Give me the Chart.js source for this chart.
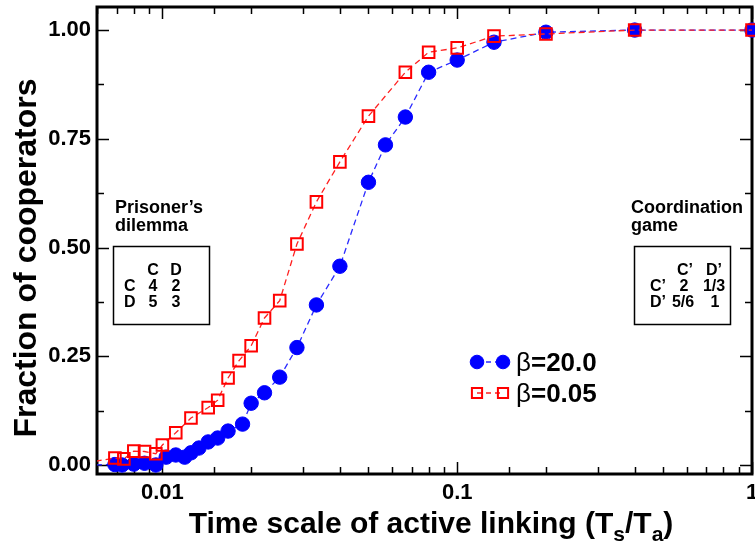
<!DOCTYPE html>
<html>
<head>
<meta charset="utf-8">
<script src="https://cdn.jsdelivr.net/npm/chart.js@4.4.1/dist/chart.umd.min.js"></script>
<style>
  html, body { margin: 0; padding: 0; background: #fff; }
  #wrap { width: 755px; height: 543px; position: relative; }
</style>
</head>
<body>
<div id="wrap"><canvas id="myChart"></canvas></div>
<script>
// beta = 20.0 (blue circles)
const strongX = [0.0055, 0.0069, 0.0073, 0.0080, 0.0087, 0.0095, 0.0103, 0.0111, 0.0119, 0.0125, 0.0133,
  0.0143, 0.0154, 0.0167, 0.0187, 0.0200, 0.0222, 0.0250, 0.0286, 0.0333, 0.0400,
  0.0500, 0.0571, 0.0667, 0.0800, 0.1000, 0.1333, 0.2000, 0.4000, 1.0000];
const strongY = [0.000, 0.001, 0.000, 0.002, 0.004, 0.000, 0.018, 0.023, 0.018, 0.028, 0.039,
  0.053, 0.062, 0.078, 0.094, 0.142, 0.166, 0.202, 0.270, 0.368, 0.457,
  0.650, 0.736, 0.800, 0.903, 0.931, 0.972, 0.995, 1.000, 1.000];

// beta = 0.05 (red open squares)
const weakX = [0.0055, 0.0069, 0.0074, 0.0080, 0.0087, 0.0095, 0.0100, 0.0111, 0.0125, 0.0143, 0.0154,
  0.0167, 0.0182, 0.0200, 0.0222, 0.0250, 0.0286, 0.0333, 0.0400, 0.0500,
  0.0667, 0.0800, 0.1000, 0.1333, 0.2000, 0.4000, 1.0000];
const weakY = [0.005, 0.016, 0.014, 0.032, 0.031, 0.026, 0.046, 0.074, 0.108, 0.132, 0.149,
  0.200, 0.240, 0.274, 0.338, 0.378, 0.508, 0.605, 0.697, 0.802,
  0.903, 0.949, 0.959, 0.986, 0.991, 1.000, 1.000];

const seriesNames = ["20.0", "0.05"];

const xTickValues = [0.01, 0.1, 1];
const xTickLabels = ["0.01", "0.1", "1"];
const yTickValues = [0, 0.25, 0.5, 0.75, 1];
const yTickLabels = ["0.00", "0.25", "0.50", "0.75", "1.00"];

const FONT = "'Liberation Sans', Arial, Helvetica, sans-serif";

function toPoints(xs, ys) {
  return xs.map((x, i) => ({ x: x, y: ys[i] }));
}

function pickLabel(values, labels, v, useLog) {
  const i = values.findIndex(t => useLog ? Math.abs(Math.log10(v / t)) < 1e-6 : Math.abs(v - t) < 1e-6);
  return i >= 0 ? labels[i] : "";
}

// frame with inward ticks on all four sides
const frameTicks = {
  id: "frameTicks",
  beforeDatasetsDraw(chart) {
    const { ctx, chartArea: a, scales: { x, y } } = chart;
    ctx.save();
    ctx.strokeStyle = "#000";
    ctx.lineWidth = 1.5;
    ctx.beginPath();
    x.ticks.forEach(t => {
      const px = Math.round(x.getPixelForValue(t.value)) + 0.5;
      const len = t.label !== "" ? 12 : 7;
      ctx.moveTo(px, a.bottom); ctx.lineTo(px, a.bottom - len);
      ctx.moveTo(px, a.top); ctx.lineTo(px, a.top + len);
    });
    y.ticks.forEach(t => {
      const py = Math.round(y.getPixelForValue(t.value)) + 0.5;
      const len = t.label !== "" ? 12 : 7;
      ctx.moveTo(a.left, py); ctx.lineTo(a.left + len, py);
      ctx.moveTo(a.right, py); ctx.lineTo(a.right - len, py);
    });
    ctx.stroke();
    ctx.lineWidth = 3;
    ctx.strokeRect(a.left, a.top, a.right - a.left, a.bottom - a.top);
    ctx.restore();
  }
};

function drawMarker(ctx, ds, cx, cy, r) {
  ctx.save();
  ctx.setLineDash([]);
  ctx.beginPath();
  if (ds.pointStyle === "rect") {
    const s = r * Math.SQRT1_2;
    ctx.rect(cx - s, cy - s, 2 * s, 2 * s);
  } else {
    ctx.arc(cx, cy, r, 0, Math.PI * 2);
  }
  ctx.fillStyle = ds.pointBackgroundColor;
  ctx.fill();
  ctx.lineWidth = ds.pointBorderWidth;
  ctx.strokeStyle = ds.pointBorderColor;
  ctx.stroke();
  ctx.restore();
}

// titles, legend and the two pay-off tables
const decorations = {
  id: "decorations",
  afterDraw(chart) {
    const { ctx } = chart;
    ctx.save();
    ctx.fillStyle = "#000";

    // y title
    ctx.save();
    ctx.translate(36, 258);
    ctx.rotate(-Math.PI / 2);
    ctx.font = "bold 32px " + FONT;
    ctx.textAlign = "center";
    ctx.textBaseline = "alphabetic";
    ctx.fillText("Fraction of cooperators", 0, 0);
    ctx.restore();

    // x title with subscripts
    const parts = [
      ["Time scale of active linking (T", false], ["s", true], ["/T", false], ["a", true], [")", false]
    ];
    const big = "bold 30px " + FONT, small = "bold 21px " + FONT;
    let total = 0;
    parts.forEach(p => { ctx.font = p[1] ? small : big; total += ctx.measureText(p[0]).width; });
    let tx = 431 - total / 2;
    ctx.textAlign = "left";
    ctx.textBaseline = "alphabetic";
    parts.forEach(p => {
      ctx.font = p[1] ? small : big;
      ctx.fillText(p[0], tx, p[1] ? 541 : 533);
      tx += ctx.measureText(p[0]).width;
    });

    // legend
    chart.data.datasets.forEach((ds, i) => {
      const cy = 362 + i * 31;
      ctx.save();
      ctx.strokeStyle = ds.borderColor;
      ctx.lineWidth = ds.borderWidth;
      ctx.setLineDash([5, 4]);
      ctx.beginPath();
      ctx.moveTo(477, cy); ctx.lineTo(503, cy);
      ctx.stroke();
      ctx.restore();
      const r = ds.pointStyle === "rect" ? 7.2 : 6.8;
      drawMarker(ctx, ds, 477, cy, r);
      drawMarker(ctx, ds, 503, cy, r);
      ctx.font = "26px " + FONT;
      ctx.fillText("\u03b2", 516, cy + 9);
      const bw = ctx.measureText("\u03b2").width;
      ctx.font = "bold 26px " + FONT;
      ctx.fillText("=" + seriesNames[i], 516 + bw, cy + 9);
    });

    // pay-off tables
    ctx.font = "bold 18px " + FONT;
    ctx.fillText("Prisoner\u2019s", 115, 213);
    ctx.fillText("dilemma", 115, 231);
    ctx.fillText("Coordination", 631, 213);
    ctx.fillText("game", 631, 231);

    ctx.lineWidth = 1.5;
    ctx.strokeStyle = "#000";
    ctx.strokeRect(113.5, 246.5, 96, 78);
    ctx.strokeRect(634.5, 246.5, 96, 78);

    ctx.font = "bold 16px " + FONT;
    const rows = [275, 291, 307];
    ctx.textAlign = "center";
    ctx.fillText("C", 153, rows[0]); ctx.fillText("D", 176, rows[0]);
    ctx.fillText("4", 153, rows[1]); ctx.fillText("2", 176, rows[1]);
    ctx.fillText("5", 153, rows[2]); ctx.fillText("3", 176, rows[2]);
    ctx.fillText("C\u2019", 685, rows[0]); ctx.fillText("D\u2019", 714, rows[0]);
    ctx.fillText("2", 684, rows[1]); ctx.fillText("1/3", 714, rows[1]);
    ctx.fillText("5/6", 683, rows[2]); ctx.fillText("1", 715, rows[2]);
    ctx.textAlign = "left";
    ctx.fillText("C", 124, rows[1]); ctx.fillText("D", 124, rows[2]);
    ctx.fillText("C\u2019", 650, rows[1]); ctx.fillText("D\u2019", 650, rows[2]);

    ctx.restore();
  }
};

const ctx = document.getElementById("myChart");

const myChart = new Chart(ctx, {
  type: "scatter",
  data: {
    datasets: [
      {
        label: "\u03b2=" + seriesNames[0],
        data: toPoints(strongX, strongY),
        showLine: true,
        borderColor: "#2a2aff",
        borderWidth: 1.3,
        borderDash: [6, 4],
        pointStyle: "circle",
        pointRadius: 7.2,
        pointHoverRadius: 7.2,
        pointBackgroundColor: "#0000ff",
        pointBorderColor: "#0000ff",
        pointBorderWidth: 1,
        clip: { left: 0, top: false, right: false, bottom: false },
        order: 1,
      },
      {
        label: "\u03b2=" + seriesNames[1],
        data: toPoints(weakX, weakY),
        showLine: true,
        borderColor: "#ff2020",
        borderWidth: 1.3,
        borderDash: [6, 4],
        pointStyle: "rect",
        pointRadius: 8.2,
        pointHoverRadius: 8.2,
        pointBackgroundColor: "rgba(0,0,0,0)",
        pointBorderColor: "#ff0000",
        pointBorderWidth: 2,
        clip: { left: 0, top: false, right: false, bottom: false },
        order: 0,
      },
    ],
  },
  options: {
    responsive: true,
    maintainAspectRatio: false,
    animation: false,
    events: [],
    layout: { autoPadding: false, padding: { top: 7, right: 3, left: 0, bottom: 0 } },
    plugins: {
      legend: { display: false },
      tooltip: { enabled: false },
    },
    scales: {
      x: {
        type: "logarithmic",
        min: 0.006,
        max: 1,
        grid: { display: false, drawTicks: false },
        border: { display: false },
        ticks: {
          autoSkip: false,
          maxRotation: 0,
          padding: 6,
          color: "#000",
          font: { family: FONT, size: 22, weight: "bold" },
          callback: (v) => pickLabel(xTickValues, xTickLabels, v, true),
        },
        afterFit: (scale) => {
          scale.height = 69;
          scale.paddingLeft = 0;
          scale.paddingRight = 0;
        },
      },
      y: {
        min: -0.0207,
        max: 1.053,
        grid: { display: false, drawTicks: false },
        border: { display: false },
        ticks: {
          stepSize: 0.125,
          includeBounds: false,
          padding: 6,
          color: "#000",
          font: { family: FONT, size: 22, weight: "bold" },
          callback: (v) => pickLabel(yTickValues, yTickLabels, v, false),
        },
        afterFit: (scale) => {
          scale.width = 97;
          scale.paddingTop = 0;
          scale.paddingBottom = 0;
        },
      },
    },
  },
  plugins: [frameTicks, decorations],
});
</script>
</body>
</html>
